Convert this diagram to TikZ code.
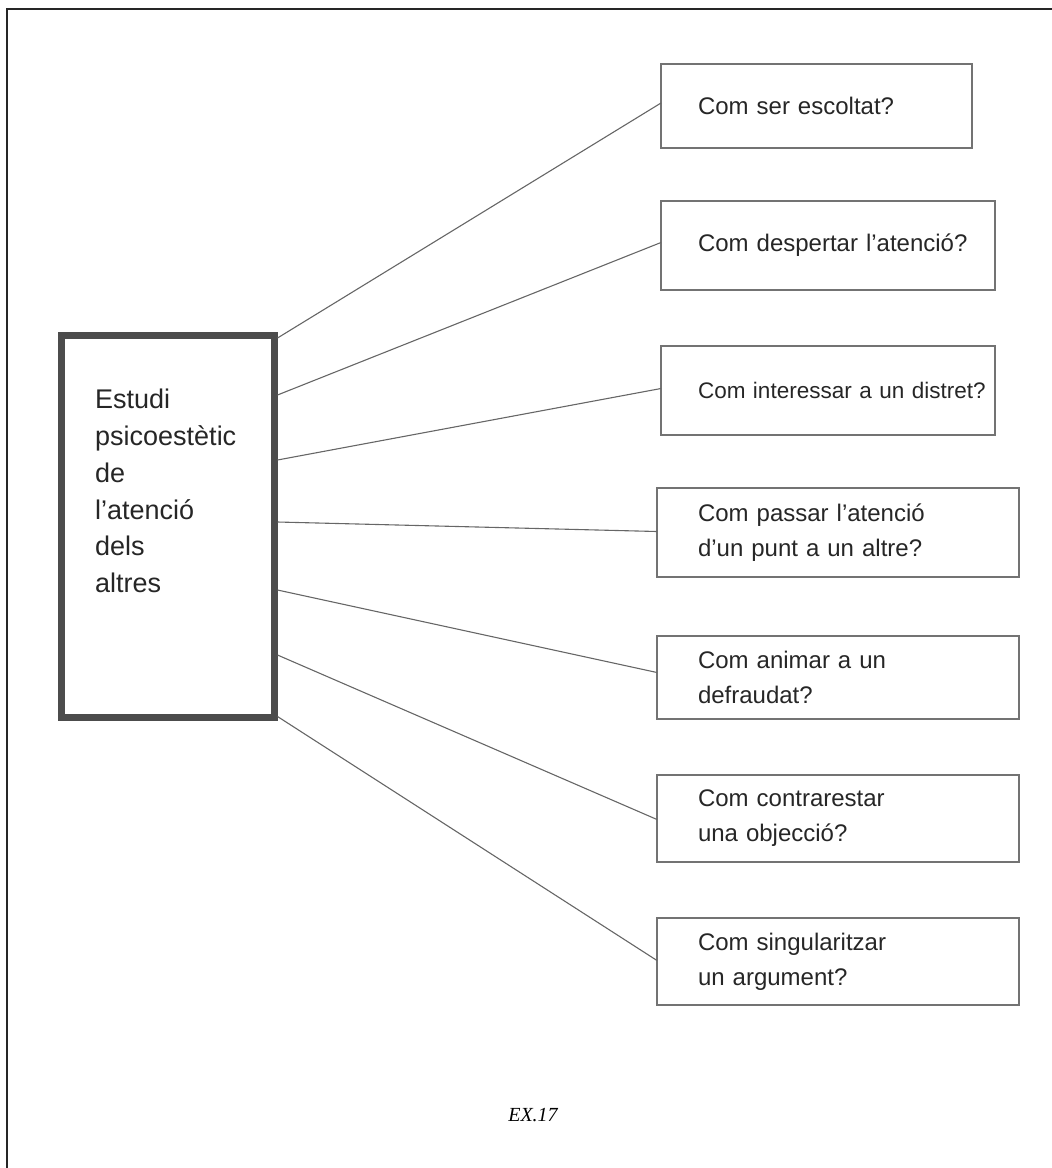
\documentclass[tikz,border=0pt]{standalone}
\usepackage{fontspec}
\setmainfont{Liberation Sans}
\newfontfamily\exfont{Liberation Serif}
\usetikzlibrary{calc}
\tikzset{
  rbox/.style={draw=black!55, line width=1.1pt, anchor=north west, align=left,
    inner ysep=0pt, outer sep=0pt, text=black!85,
    font=\fontsize{24}{35}\selectfont},
  mainbox/.style={draw=black!70, line width=7pt, inner sep=0pt, outer sep=3.5pt},
  maintxt/.style={anchor=north west, inner sep=0pt, align=left, text=black!85,
    font=\fontsize{27}{36.8}\selectfont},
  conn/.style={draw=black!60, line width=1.1pt},
  frame/.style={draw=black!85, line width=2pt}
}
\begin{document}
\begin{tikzpicture}[x=1pt,y=1pt]
\useasboundingbox (0,0) rectangle (1052,-1168);
\draw[frame] (7,-1168) -- (7,-9) -- (1052,-9);

\node[mainbox, minimum width=212.5pt, minimum height=381.5pt] (main) at (167.75,-526.25) {};
\node[maintxt] (maintext) at (95,-389) {Estudi\\psicoestètic\\de\\l'atenció\\dels\\altres};

\node[rbox, text width=237pt, inner xsep=37pt, minimum height=84pt] (b1) at (661,-64) {\mbox{Com ser escoltat?}};
\node[rbox, text width=260pt, inner xsep=37pt, minimum height=89pt] (b2) at (661,-201) {\mbox{Com despertar l'atenció?}};
\node[rbox, text width=260pt, inner xsep=37pt, minimum height=89pt, font=\fontsize{22.5}{35}\selectfont] (b3) at (661,-346) {\mbox{Com interessar a un distret?}};
\node[rbox, text width=280pt, inner xsep=41pt, minimum height=89pt] (b4) at (657,-488) {Com passar l'atenció\\d'un punt a un altre?};
\node[rbox, text width=280pt, inner xsep=41pt, minimum height=83pt] (b5) at (657,-636) {Com animar a un\\defraudat?};
\node[rbox, text width=280pt, inner xsep=41pt, minimum height=87pt] (b6) at (657,-775) {Com contrarestar\\una objecció?};
\node[rbox, text width=280pt, inner xsep=41pt, minimum height=87pt] (b7) at (657,-918) {Com singularitzar\\un argument?};

\draw[conn] ([yshift=-6pt]main.north east) -- ([yshift=3pt]b1.west);
\draw[conn] ([yshift=-63pt]main.north east) -- ([yshift=3pt]b2.west);
\draw[conn] ([yshift=-128pt]main.north east) -- ([yshift=2pt]b3.west);
\draw[conn] ([yshift=-190pt]main.north east) -- ([yshift=1pt]b4.west);
\draw[conn] ([yshift=-258pt]main.north east) -- ([yshift=5pt]b5.west);
\draw[conn] ([yshift=-323pt]main.north east) -- ([yshift=-1pt]b6.west);
\draw[conn] ([yshift=4pt]main.south east) -- ([yshift=1pt]b7.west);

\node[anchor=base, inner sep=0pt, font=\exfont\itshape\fontsize{20}{24}\selectfont] (ex) at (533,-1121) {EX.17};
\end{tikzpicture}
\end{document}
